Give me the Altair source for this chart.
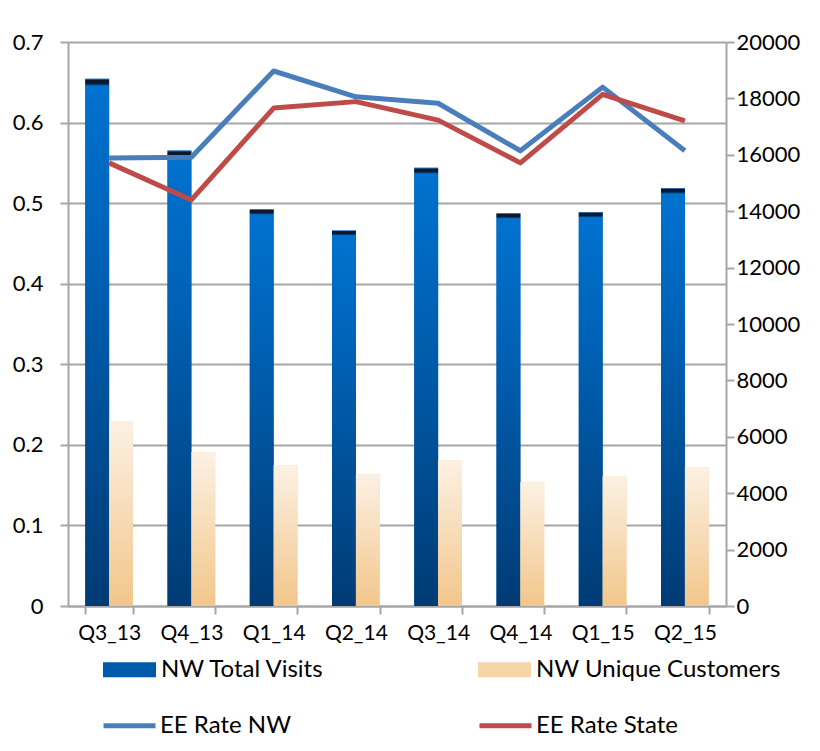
import altair as alt
import pandas as pd

quarters = ["Q3_13", "Q4_13", "Q1_14", "Q2_14", "Q3_14", "Q4_14", "Q1_15", "Q2_15"]
total_visits = [18700, 16150, 14070, 13320, 15540, 13930, 13970, 14820]
unique_customers = [6560, 5450, 4990, 4670, 5170, 4390, 4610, 4930]
ee_rate_nw = [0.556, 0.557, 0.664, 0.632, 0.624, 0.565, 0.644, 0.565]
ee_rate_state = [0.550, 0.504, 0.618, 0.626, 0.603, 0.550, 0.635, 0.602]

bar_series = ["NW Total Visits", "NW Unique Customers"]
line_series = ["EE Rate NW", "EE Rate State"]
left_ticks = [0, 0.1, 0.2, 0.3, 0.4, 0.5, 0.6, 0.7]
right_ticks = [0, 2000, 4000, 6000, 8000, 10000, 12000, 14000, 16000, 18000, 20000]

bars_df = pd.DataFrame({
    "quarter": quarters * 2,
    "series": [bar_series[0]] * len(quarters) + [bar_series[1]] * len(quarters),
    "value": total_visits + unique_customers,
})
lines_df = pd.DataFrame({
    "quarter": quarters * 2,
    "series": [line_series[0]] * len(quarters) + [line_series[1]] * len(quarters),
    "rate": ee_rate_nw + ee_rate_state,
})

FONT = "Lato"
GRAY = "#a6a6a6"

x_enc = alt.X(
    "quarter:N",
    sort=quarters,
    scale=alt.Scale(domain=quarters, paddingInner=0.42, paddingOuter=0.21),
    axis=alt.Axis(
        title=None, labelAngle=0, tickBand="extent", tickSize=8, tickWidth=2,
        tickColor=GRAY, domainColor=GRAY, domainWidth=2, labelPadding=8,
        labelFont=FONT, labelFontSize=21, labelColor="#000000", grid=False,
    ),
)
xoff_enc = alt.XOffset("series:N", scale=alt.Scale(domain=bar_series, paddingInner=0, paddingOuter=0))
y_bar = alt.Y(
    "value:Q",
    scale=alt.Scale(domain=[0, 20000], nice=False),
    axis=alt.Axis(
        orient="right", values=right_ticks, format="d", title=None, grid=False,
        tickSize=8, tickWidth=2, tickColor=GRAY, domainColor=GRAY, domainWidth=2,
        labelPadding=2, labelFont=FONT, labelFontSize=22, labelColor="#000000",
    ),
)

solid_bars = alt.Chart(bars_df).mark_bar().encode(
    x=x_enc,
    xOffset=xoff_enc,
    y=y_bar,
    fill=alt.Fill(
        "series:N",
        scale=alt.Scale(domain=bar_series, range=["#005aab", "#f5d6a8"]),
        legend=alt.Legend(
            title=None, orient="none", legendX=35, legendY=601, columns=2,
            direction="horizontal", symbolType="M-1,-0.28H1V0.28H-1Z", symbolSize=2809,
            symbolStrokeWidth=0, labelFont=FONT, labelFontSize=24, labelColor="#000000",
            labelLimit=400, labelOffset=5, columnPadding=153, padding=0,
        ),
    ),
)

blue_grad = alt.Gradient(
    gradient="linear", x1=0, x2=0, y1=0, y2=1,
    stops=[
        alt.GradientStop(offset=0, color="#3d8fdc"),
        alt.GradientStop(offset=0.003, color="#0b1830"),
        alt.GradientStop(offset=0.009, color="#0b1830"),
        alt.GradientStop(offset=0.014, color="#0072cf"),
        alt.GradientStop(offset=0.3, color="#0063b8"),
        alt.GradientStop(offset=1, color="#003b74"),
    ],
)
beige_grad = alt.Gradient(
    gradient="linear", x1=0, x2=0, y1=0, y2=1,
    stops=[
        alt.GradientStop(offset=0, color="#fcf1e4"),
        alt.GradientStop(offset=1, color="#f2c68a"),
    ],
)

grad_visits = alt.Chart(bars_df).transform_filter(
    alt.datum.series == bar_series[0]
).mark_bar(fill=blue_grad).encode(x=x_enc, xOffset=xoff_enc, y=y_bar)

grad_unique = alt.Chart(bars_df).transform_filter(
    alt.datum.series == bar_series[1]
).mark_bar(fill=beige_grad).encode(x=x_enc, xOffset=xoff_enc, y=y_bar)

bars = alt.layer(solid_bars, grad_visits, grad_unique)

lines = alt.Chart(lines_df).mark_line(strokeWidth=5, strokeJoin="round").encode(
    x=x_enc,
    y=alt.Y(
        "rate:Q",
        scale=alt.Scale(domain=[0, 0.7], nice=False),
        axis=alt.Axis(
            orient="left", values=left_ticks, format=".1~f", title=None, grid=True,
            gridColor=GRAY, gridWidth=2, tickSize=8, tickWidth=2, tickColor=GRAY,
            domainColor=GRAY, domainWidth=2, labelPadding=17, labelFont=FONT,
            labelFontSize=22, labelColor="#000000",
        ),
    ),
    stroke=alt.Stroke(
        "series:N",
        scale=alt.Scale(domain=line_series, range=["#4a7ebb", "#be4b48"]),
        legend=alt.Legend(
            title=None, orient="none", legendX=33, legendY=655, columns=2,
            direction="horizontal", symbolType="stroke", symbolSize=2704,
            symbolStrokeWidth=5, labelFont=FONT, labelFontSize=24, labelColor="#000000",
            labelLimit=400, labelOffset=2, columnPadding=177, padding=0,
        ),
    ),
)

chart = alt.layer(bars, lines).resolve_scale(y="independent").properties(
    width=658,
    height=564,
    autosize=alt.AutoSizeParams(type="none"),
    padding={"left": 60, "top": 34, "right": 86, "bottom": 137},
    background="#ffffff",
).configure_view(strokeWidth=0)

chart.save("out.html", embed_options={"renderer": "svg", "actions": False})
